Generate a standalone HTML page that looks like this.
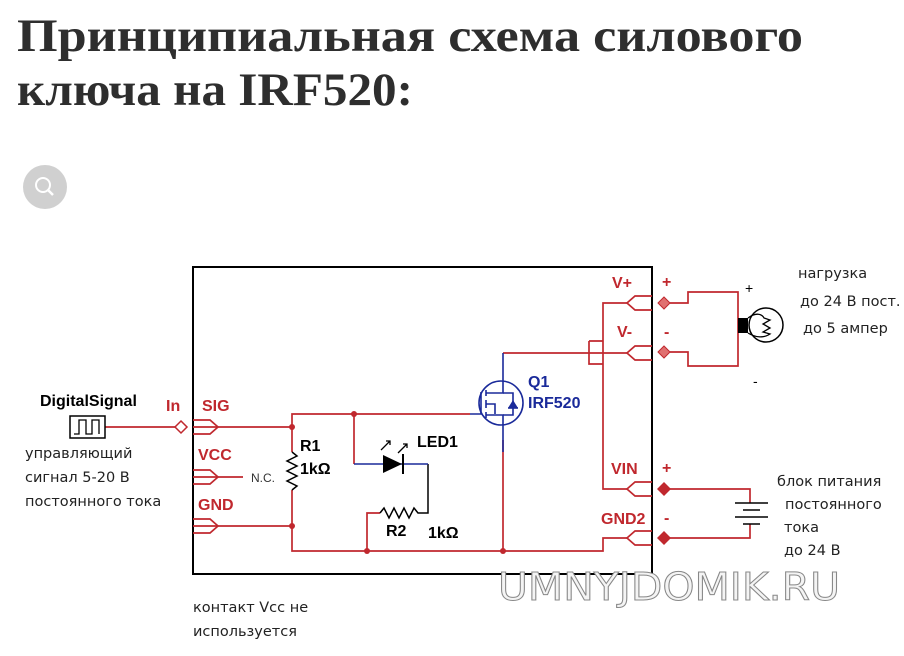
<!DOCTYPE html>
<html><head><meta charset="utf-8"><style>
html,body{margin:0;padding:0;background:#fff;width:904px;height:656px;overflow:hidden}
svg{display:block}
</style></head><body>
<svg width="904" height="656" viewBox="0 0 904 656" xmlns="http://www.w3.org/2000/svg">
<g font-family="'Liberation Serif','Noto Serif CJK SC',serif" font-weight="bold" fill="#2e2e2e" font-size="47">
<text x="17" y="51" textLength="786" lengthAdjust="spacingAndGlyphs">Принципиальная схема силового</text>
<text x="17" y="105" textLength="396" lengthAdjust="spacingAndGlyphs">ключа на IRF520:</text>
</g>
<circle cx="45" cy="187" r="22" fill="#d0d0d0"/>
<circle cx="43" cy="185" r="7" fill="none" stroke="#fff" stroke-width="2"/>
<line x1="48" y1="190" x2="53" y2="195" stroke="#fff" stroke-width="2.5"/>

<rect x="193" y="267" width="459" height="307" fill="none" stroke="#000" stroke-width="2"/>

<g fill="none" stroke="#c0282e" stroke-width="1.7">
<path d="M193 420 H210 L218 427 L210 434 H193"/><path d="M193 427 H218"/>
<path d="M193 470 H210 L218 477 L210 484 H193"/><path d="M193 477 H243"/>
<path d="M193 519 H210 L218 526 L210 533 H193"/><path d="M193 526 H292"/>
<path d="M218 427 H292 V452"/><path d="M292 490 V551 H603 V538 H627"/>
<path d="M292 427 V414 H470"/>
<path d="M354 414 V464"/>
<path d="M367 551 V513 H380"/>
<path d="M503 440 V551"/>
<path d="M503 353 H603"/>
<path d="M627 303 H603 V489 H627"/>
<path d="M589 341 V364 H603 M589 341 H603"/>
<path d="M627 353 H603"/>
<path d="M652 296 H635 L627 303 L635 310 H652"/>
<path d="M652 346 H635 L627 353 L635 360 H652"/>
<path d="M652 482 H635 L627 489 L635 496 H652"/>
<path d="M652 531 H635 L627 538 L635 545 H652"/>
<path d="M670 303 H688 V292 H738 V366 H688 V352 H670"/>
<path d="M670 489 H750 V503 M750 524 V538 H670"/>
<path d="M105 427 H176"/>
</g>
<g fill="#c0282e">
<circle cx="292" cy="427" r="3"/><circle cx="354" cy="414" r="3"/><circle cx="292" cy="526" r="3"/>
<circle cx="367" cy="551" r="3"/><circle cx="503" cy="551" r="3"/>
<path d="M664 297 L670 303 L664 309 L658 303Z" fill="#e07070" stroke="#c0282e"/>
<path d="M664 346 L670 352 L664 358 L658 352Z" fill="#e07070" stroke="#c0282e"/>
<path d="M664 482 L671 489 L664 496 L657 489Z"/>
<path d="M664 531 L671 538 L664 545 L657 538Z"/>
</g>
<path d="M181 421 L187 427 L181 433 L175 427Z" fill="#fff" stroke="#c0282e" stroke-width="1.5"/>

<polyline points="292,452 297,456 287,461 297,466 287,471 297,476 287,481 297,486 292,490" fill="none" stroke="#000" stroke-width="1.5"/>
<polyline points="380,513 384,508 389,518 394,508 399,518 404,508 409,518 414,508 418,513 428,513 428,464" fill="none" stroke="#000" stroke-width="1.5"/>
<path d="M354 464 H428" stroke="#1a2a9a" stroke-width="1.6"/>
<path d="M383 455 L402 464 L383 473Z" fill="#000"/>
<path d="M403 454 V474" stroke="#000" stroke-width="2"/>
<g stroke="#000" stroke-width="1.3" fill="none">
<path d="M381 450 L390 441 M386 441 L390 441 L390 445"/><path d="M398 453 L407 444 M403 444 L407 444 L407 448"/>
</g>
<g stroke="#1a2a9a" stroke-width="1.6" fill="none">
<circle cx="501" cy="403" r="22"/>
<path d="M470 414 H481 V392"/>
<path d="M486 390 V396 M486 400 V408 M486 412 V418"/>
<path d="M486 393 H503 V353"/><path d="M486 404 H495 V414 M486 415 H503 V452"/>
<path d="M503 393 H513 V415 H503"/>
<path d="M508 408 H518"/>
</g>
<path d="M513 400 L508 408 L518 408Z" fill="#1a2a9a"/>

<rect x="738" y="318" width="10" height="15" fill="#000"/>
<circle cx="766" cy="325" r="17" fill="none" stroke="#000" stroke-width="1.5"/>
<path d="M748 318 C756 312 762 314 764 318 L770 320 L763 324 L770 328 L763 332 L770 334 C764 338 756 338 748 333" fill="none" stroke="#000" stroke-width="1.3"/>
<g stroke="#000" stroke-width="1.6">
<path d="M735 503 H768 M743 510 H760 M735 517 H768 M743 524 H760"/>
</g>

<rect x="70" y="416" width="35" height="22" fill="none" stroke="#000" stroke-width="1.5"/>
<polyline points="74,434 79,434 79,420 86,420 86,434 92,434 92,420 99,420 99,434" fill="none" stroke="#000" stroke-width="1.3"/>

<g font-family="'Liberation Sans',sans-serif" font-weight="bold" font-size="16" fill="#c0282e">
<text x="166" y="411">In</text><text x="202" y="411">SIG</text><text x="198" y="460">VCC</text><text x="198" y="510">GND</text>
<text x="612" y="288">V+</text><text x="617" y="337">V-</text><text x="611" y="474">VIN</text><text x="601" y="524">GND2</text>
<text x="662" y="287">+</text><text x="664" y="337">-</text><text x="662" y="473">+</text><text x="664" y="523">-</text>
</g>
<g font-family="'Liberation Sans',sans-serif" font-weight="bold" font-size="16" fill="#000">
<text x="40" y="406">DigitalSignal</text>
<text x="300" y="451">R1</text><text x="300" y="474">1kΩ</text>
<text x="417" y="447">LED1</text>
<text x="386" y="536">R2</text><text x="428" y="538">1kΩ</text>
</g>
<g font-family="'Liberation Sans',sans-serif" font-weight="bold" font-size="16" fill="#1a2a9a">
<text x="528" y="387">Q1</text><text x="528" y="408">IRF520</text>
</g>
<text x="251" y="482" font-family="'Liberation Sans',sans-serif" font-size="12" fill="#333">N.C.</text>
<text x="745" y="293" font-family="'Liberation Sans',sans-serif" font-size="14" fill="#000">+</text>
<text x="753" y="386" font-family="'Liberation Sans',sans-serif" font-size="14" fill="#000">-</text>

<g font-family="'DejaVu Sans',sans-serif" font-size="14.5" fill="#222">
<text x="25" y="458">управляющий</text><text x="25" y="482">сигнал 5-20 В</text><text x="25" y="506">постоянного тока</text>
<text x="798" y="278">нагрузка</text><text x="800" y="306">до 24 В пост.</text><text x="803" y="333">до 5 ампер</text>
<text x="777" y="486">блок питания</text><text x="785" y="509">постоянного</text><text x="784" y="532">тока</text><text x="784" y="555">до 24 В</text>
<text x="193" y="612">контакт Vcc не</text><text x="193" y="636">используется</text>
</g>
<text x="498" y="600" font-family="'DejaVu Sans',sans-serif" font-size="38" fill="#f4f4f4" stroke="#888" stroke-width="1" textLength="342" lengthAdjust="spacingAndGlyphs">UMNYJDOMIK.RU</text>
</svg>
</body></html>
